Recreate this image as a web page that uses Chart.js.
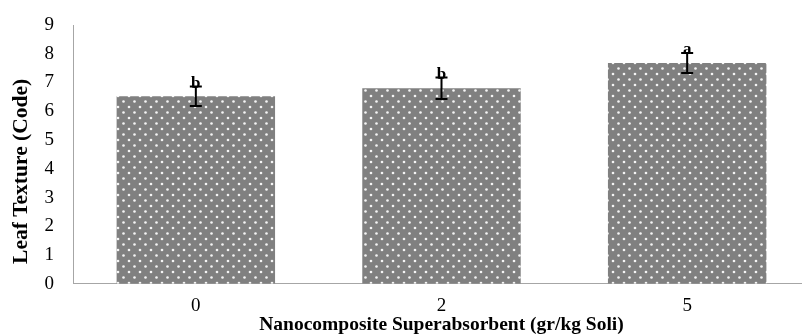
<!DOCTYPE html>
<html>
<head>
<meta charset="utf-8">
<script src="https://cdn.jsdelivr.net/npm/chart.js@4"></script>
<style>
  html, body { margin: 0; padding: 0; overflow: hidden; background: #fff; }
  #wrap { width: 810px; height: 336px; }
</style>
</head>
<body>
<div id="wrap"><canvas id="canvas"></canvas></div>
<script>
const categories = ['0', '2', '5']
const texture = [6.52, 6.80, 7.68]
const errors = [0.34, 0.37, 0.35]
const letters = ['b', 'b', 'a']
const yTitle = 'Leaf Texture (Code)'

const serif = '"Liberation Serif", "Times New Roman", serif'

// grey fill with white dots, like the excel pattern
function dotPattern() {
  const c = document.createElement('canvas')
  c.width = 11
  c.height = 11
  const g = c.getContext('2d')
  g.fillStyle = '#808080'
  g.fillRect(0, 0, 11, 11)
  g.fillStyle = 'rgba(245,245,245,1)'
  g.beginPath(); g.arc(2.5, 2.5, 1.3, 0, Math.PI * 2); g.fill()
  g.beginPath(); g.arc(8, 8, 1.3, 0, Math.PI * 2); g.fill()
  return g.createPattern(c, 'repeat')
}

const errorBars = {
  id: 'errorBars',
  afterDatasetsDraw(chart) {
    const ctx = chart.ctx
    const y = chart.scales.y
    const meta = chart.getDatasetMeta(0)
    ctx.save()
    meta.data.forEach((bar, i) => {
      const top = y.getPixelForValue(texture[i] + errors[i])
      const bot = y.getPixelForValue(texture[i] - errors[i])
      ctx.strokeStyle = '#000'
      ctx.lineWidth = 2
      ctx.beginPath()
      ctx.moveTo(bar.x, top); ctx.lineTo(bar.x, bot)
      ctx.moveTo(bar.x - 6, bot); ctx.lineTo(bar.x + 6, bot)
      ctx.moveTo(bar.x - 6, top); ctx.lineTo(bar.x + 6, top)
      ctx.stroke()
      ctx.fillStyle = '#000'
      ctx.font = 'bold 17px ' + serif
      ctx.textAlign = 'center'
      ctx.textBaseline = 'alphabetic'
      ctx.fillText(letters[i], bar.x, top + 1)
    })
    ctx.restore()
  }
}

// y title sits a bit lower than the axis middle in the original
const sideTitle = {
  id: 'sideTitle',
  afterDraw(chart) {
    const ctx = chart.ctx
    const a = chart.chartArea
    ctx.save()
    ctx.translate(21, (a.top + a.bottom) / 2 + 17)
    ctx.rotate(-Math.PI / 2)
    ctx.fillStyle = '#000'
    ctx.font = 'bold 21.5px ' + serif
    ctx.textAlign = 'center'
    ctx.textBaseline = 'middle'
    ctx.fillText(yTitle, 0, 0)
    ctx.restore()
  }
}

const canvas = document.getElementById('canvas')
const chart = new Chart(canvas, {
  type: 'bar',
  data: {
    labels: categories,
    datasets: [{
      data: texture,
      backgroundColor: dotPattern(),
      borderWidth: 0,
      categoryPercentage: 1,
      barPercentage: 0.645,
    }],
  },
  options: {
    responsive: true,
    maintainAspectRatio: false,
    animation: false,
    layout: { padding: { top: 25, right: 0, left: 25.5, bottom: 0 } },
    plugins: {
      legend: { display: false },
      tooltip: { enabled: false },
    },
    scales: {
      x: {
        grid: { display: false, drawTicks: false },
        border: { color: '#a6a6a6', width: 1 },
        ticks: {
          color: '#000',
          padding: 11,
          font: { family: serif, size: 19 },
        },
        title: {
          display: true,
          text: 'Nanocomposite Superabsorbent (gr/kg Soli)',
          color: '#000',
          padding: { top: -15, bottom: -1 },
          font: { family: serif, size: 19.5, weight: 'bold' },
        },
      },
      y: {
        min: 0,
        max: 9,
        grid: { display: false, drawTicks: false },
        border: { color: '#a6a6a6', width: 1 },
        ticks: {
          stepSize: 1,
          color: '#000',
          padding: 19,
          font: { family: serif, size: 19, lineHeight: 0.5 },
        },
        title: { display: false },
      },
    },
  },
  plugins: [errorBars, sideTitle],
})
</script>
</body>
</html>
